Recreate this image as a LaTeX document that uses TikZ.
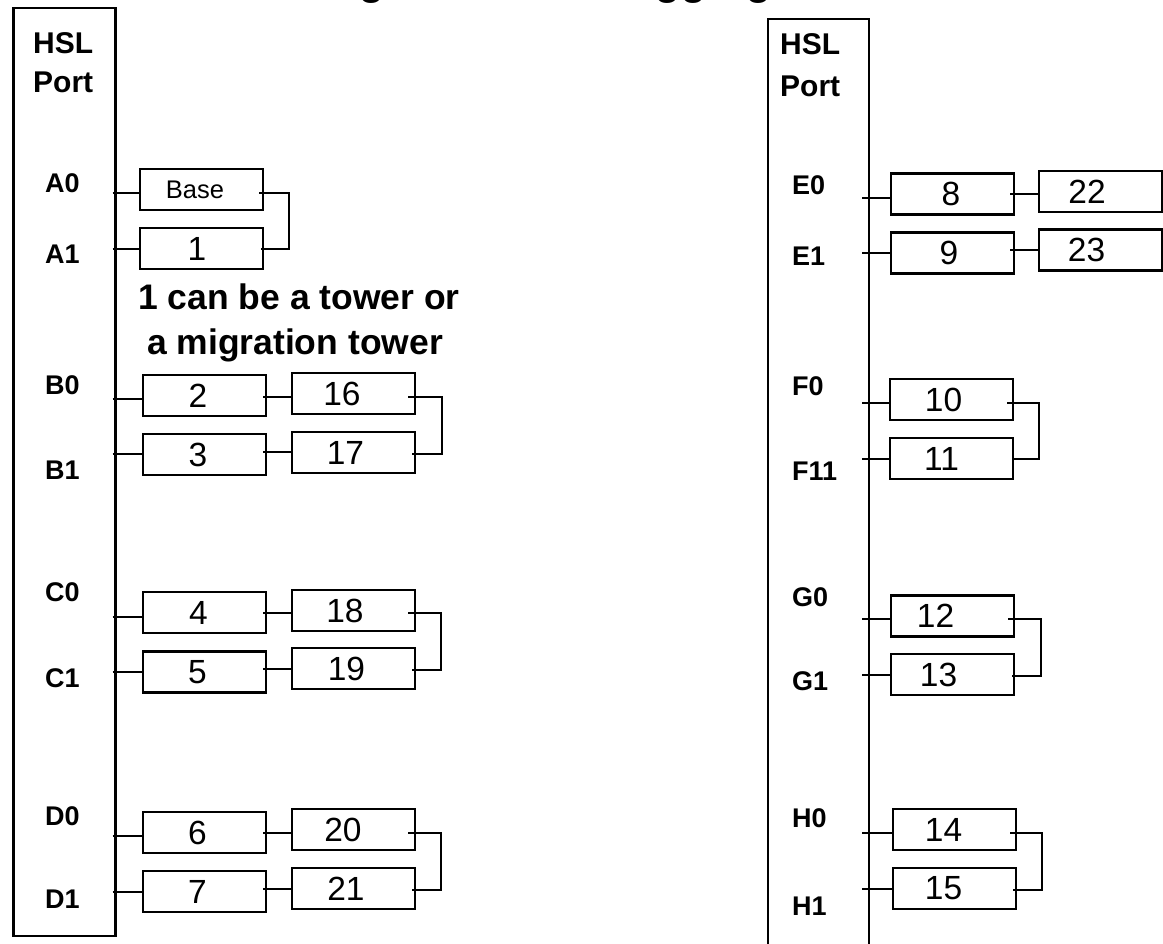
\documentclass[tikz,border=0pt]{standalone}
\usepackage{fontspec}
\setmainfont{Liberation Sans}
\newcommand{\boxtxt}[2]{#1\kern #2pt}
\begin{document}
\begin{tikzpicture}[x=1pt,y=-1pt,
  wire/.style={line width=2.2pt},
  portrect/.style={draw, line width=2.2pt, inner sep=0pt, outer sep=0pt},
  box/.style={draw, line width=2.2pt, minimum width=123pt, minimum height=41pt,
    inner sep=0pt, outer sep=0pt, font=\fontsize{33.5}{33.5}\selectfont},
  basebox/.style={box, font=\fontsize{25.5}{25.5}\selectfont},
  portlbl/.style={anchor=west, inner sep=0pt, font=\bfseries\fontsize{27}{27}\selectfont},
  hsl/.style={anchor=base west, inner sep=0pt, font=\bfseries\fontsize{30}{30}\selectfont},
  note/.style={anchor=base, inner sep=0pt, font=\bfseries\fontsize{35.5}{35.5}\selectfont},
  titlefrag/.style={anchor=base west, inner sep=0pt, font=\fontsize{48}{48}\selectfont}]
\useasboundingbox (0,0) rectangle (1163,944);
\fill[white] (0,0) rectangle (1163,944);
\clip (0,0) rectangle (1163,944);

% title fragments (cut off at the top edge, as in the reference)
\node[titlefrag] (t1) at (358,-6.5) {g};
\node[titlefrag] (t2) at (654,-6.5) {gg};
\node[titlefrag] (t3) at (745,-6.5) {g};

% ---------------- left panel ----------------
\node[portrect, minimum width=102pt, minimum height=928pt] (portL) at (64.5,472) {};
\node[hsl] (hslL) at (33,54) {HSL};
\node[hsl] (prtL) at (33,93) {Port};

\node[portlbl] (lA0) at (45,183) {A0};
\node[portlbl] (lA1) at (45,254) {A1};
\node[portlbl] (lB0) at (45,385) {B0};
\node[portlbl] (lB1) at (45,470) {B1};
\node[portlbl] (lC0) at (45,592) {C0};
\node[portlbl] (lC1) at (45,678) {C1};
\node[portlbl] (lD0) at (45,816) {D0};
\node[portlbl] (lD1) at (45,899) {D1};

\node[basebox] (nBase) at (201.5,189.5) {\boxtxt{Base}{13}};
\node[box] (nOne) at (201.5,248.5) {\boxtxt{1}{9}};
\node[box] (n2) at (204.5,395.5) {\boxtxt{2}{13}};
\node[box] (n3) at (204.5,454.5) {\boxtxt{3}{13}};
\node[box] (n4) at (204.5,612.5) {\boxtxt{4}{12}};
\node[box] (n5) at (204.5,672) {\boxtxt{5}{14}};
\node[box] (n6) at (204.5,832.5) {\boxtxt{6}{14}};
\node[box] (n7) at (204.5,891.5) {\boxtxt{7}{14}};
\node[box] (n16) at (353.5,393.5) {\boxtxt{16}{23}};
\node[box] (n17) at (353.5,452.5) {\boxtxt{17}{16}};
\node[box] (n18) at (353.5,610.5) {\boxtxt{18}{17}};
\node[box] (n19) at (353.5,668.5) {\boxtxt{19}{14}};
\node[box] (n20) at (353.5,829.5) {\boxtxt{20}{21}};
\node[box] (n21) at (353.5,888.5) {\boxtxt{21}{15}};

\node[note] (noteA) at (299,309) {1 can be a tower or};
\node[note] (noteB) at (295,354) {a migration tower};

% A
\draw[wire] ([xshift=-3pt]portL.east |- 0,193) -- (nBase.west |- 0,193);
\draw[wire] ([xshift=-3pt]portL.east |- 0,249) -- (nOne.west |- 0,249);
\draw[wire] ([xshift=-4pt]nBase.east |- 0,193) -| ([xshift=26pt]nOne.east |- 0,249) -- ([xshift=-2pt]nOne.east |- 0,249);
% B
\draw[wire] ([xshift=-3pt]portL.east |- 0,399) -- (n2.west |- 0,399);
\draw[wire] ([xshift=-3pt]portL.east |- 0,454) -- (n3.west |- 0,454);
\draw[wire] ([xshift=-3pt]n2.east |- 0,397) -- (n16.west |- 0,397);
\draw[wire] ([xshift=-3pt]n3.east |- 0,452) -- (n17.west |- 0,452);
\draw[wire] ([xshift=-7pt]n16.east |- 0,397) -| ([xshift=27pt]n17.east |- 0,454) -- ([xshift=-3pt]n17.east |- 0,454);
% C
\draw[wire] ([xshift=-3pt]portL.east |- 0,617) -- (n4.west |- 0,617);
\draw[wire] ([xshift=-3pt]portL.east |- 0,672) -- (n5.west |- 0,672);
\draw[wire] ([xshift=-3pt]n4.east |- 0,613) -- (n18.west |- 0,613);
\draw[wire] ([xshift=-3pt]n5.east |- 0,669) -- (n19.west |- 0,669);
\draw[wire] ([xshift=-7pt]n18.east |- 0,613) -| ([xshift=26pt]n19.east |- 0,670) -- ([xshift=-3pt]n19.east |- 0,670);
% D
\draw[wire] ([xshift=-3pt]portL.east |- 0,836) -- (n6.west |- 0,836);
\draw[wire] ([xshift=-3pt]portL.east |- 0,892) -- (n7.west |- 0,892);
\draw[wire] ([xshift=-3pt]n6.east |- 0,833) -- (n20.west |- 0,833);
\draw[wire] ([xshift=-3pt]n7.east |- 0,889) -- (n21.west |- 0,889);
\draw[wire] ([xshift=-7pt]n20.east |- 0,833) -| ([xshift=26pt]n21.east |- 0,890) -- ([xshift=-3pt]n21.east |- 0,890);

% ---------------- right panel ----------------
\node[portrect, minimum width=101pt, minimum height=961pt] (portR) at (818.5,499.5) {};
\node[hsl] (hslR) at (780,55) {HSL};
\node[hsl] (prtR) at (780,97) {Port};

\node[portlbl] (lE0) at (792,185) {E0};
\node[portlbl] (lE1) at (792,256) {E1};
\node[portlbl] (lF0) at (792,386) {F0};
\node[portlbl] (lF1) at (792,471) {F11};
\node[portlbl] (lG0) at (792,597) {G0};
\node[portlbl] (lG1) at (792,681) {G1};
\node[portlbl] (lH0) at (792,818) {H0};
\node[portlbl] (lH1) at (792,906) {H1};

\node[box] (n8) at (952.5,194) {\boxtxt{8}{3}};
\node[box] (n9) at (952.5,253) {\boxtxt{9}{7}};
\node[box] (n22) at (1100.5,191.5) {\boxtxt{22}{27}};
\node[box] (n23) at (1100.5,250) {\boxtxt{23}{28}};
\node[box] (n10) at (951.5,399.5) {\boxtxt{10}{16}};
\node[box] (n11) at (951.5,458.5) {\boxtxt{11}{20}};
\node[box] (n12) at (952.5,616) {\boxtxt{12}{34}};
\node[box] (n13) at (952.5,674.5) {\boxtxt{13}{28}};
\node[box] (n14) at (954.5,829.5) {\boxtxt{14}{22}};
\node[box] (n15) at (954.5,888.5) {\boxtxt{15}{22}};

% E
\draw[wire] ([xshift=-7pt]portR.east |- 0,198) -- (n8.west |- 0,198);
\draw[wire] ([xshift=-7pt]portR.east |- 0,253) -- (n9.west |- 0,253);
\draw[wire] ([xshift=-4pt]n8.east |- 0,194) -- (n22.west |- 0,194);
\draw[wire] ([xshift=-4pt]n9.east |- 0,250) -- (n23.west |- 0,250);
% F
\draw[wire] ([xshift=-7pt]portR.east |- 0,403) -- (n10.west |- 0,403);
\draw[wire] ([xshift=-7pt]portR.east |- 0,459) -- (n11.west |- 0,459);
\draw[wire] ([xshift=-6pt]n10.east |- 0,403) -| ([xshift=26pt]n11.east |- 0,459) -- ([xshift=-1pt]n11.east |- 0,459);
% G
\draw[wire] ([xshift=-7pt]portR.east |- 0,619) -- (n12.west |- 0,619);
\draw[wire] ([xshift=-7pt]portR.east |- 0,675) -- (n13.west |- 0,675);
\draw[wire] ([xshift=-6pt]n12.east |- 0,619) -| ([xshift=27pt]n13.east |- 0,676) -- ([xshift=-2pt]n13.east |- 0,676);
% H
\draw[wire] ([xshift=-7pt]portR.east |- 0,833) -- (n14.west |- 0,833);
\draw[wire] ([xshift=-7pt]portR.east |- 0,889) -- (n15.west |- 0,889);
\draw[wire] ([xshift=-6pt]n14.east |- 0,833) -| ([xshift=26pt]n15.east |- 0,890) -- ([xshift=-3pt]n15.east |- 0,890);
\end{tikzpicture}
\end{document}
